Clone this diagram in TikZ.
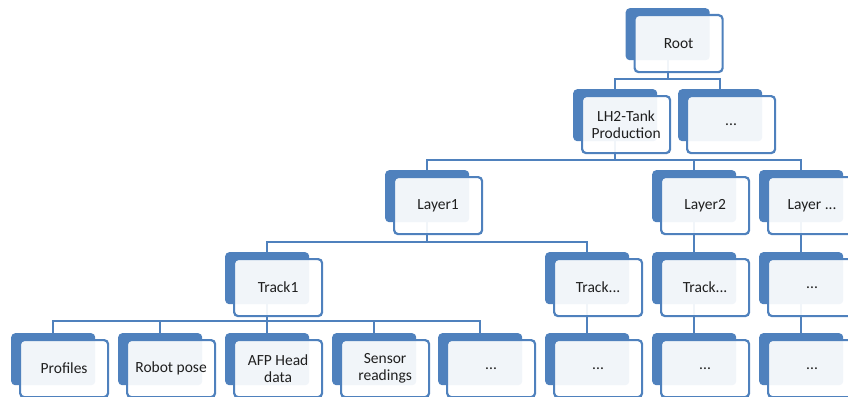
\documentclass[tikz,border=0pt]{standalone}
\usepackage{fontspec}
\setmainfont{Carlito}
\usetikzlibrary{backgrounds}
\definecolor{sablue}{RGB}{79,129,189}
\tikzset{
 backbox/.style={anchor=north west, minimum width=84pt, minimum height=52pt, inner sep=0pt, rounded corners=4pt, fill=sablue},
 frontbox/.style={anchor=north west, minimum width=88pt, minimum height=57pt, inner sep=0pt, rounded corners=4pt, draw=sablue, line width=2.2pt, fill=white, fill opacity=0.92, text opacity=1, text=black!88, font=\fontsize{15.5}{17}\selectfont, align=center},
 conn/.style={draw=sablue, line width=2.2pt}
}
\newcommand\smbox[4]{%
 \node[backbox] (#1b) at (#2-42,#3) {};
 \node[frontbox] (#1) at (#2-34,#3+6) {#4};}
\begin{document}
\begin{tikzpicture}[x=1pt,y=-1pt]
\useasboundingbox (0,0) rectangle (848,396);
\clip (0,0) rectangle (848,396);
\smbox{root}{667.5}{8}{Root}
\smbox{lh}{615}{89}{LH2-Tank\\Production}
\smbox{da}{720}{89}{...}
\smbox{layA}{427}{170}{Layer1}
\smbox{layB}{694}{170}{Layer2}
\smbox{layC}{801}{170}{Layer ...}
\smbox{trA}{267}{252}{Track1}
\smbox{trB}{587}{252}{Track...}
\smbox{trC}{694}{252}{Track...}
\smbox{trD}{801}{252}{...}
\smbox{prof}{53}{333}{Profiles}
\smbox{robot}{160}{333}{Robot pose}
\smbox{afp}{267}{333}{AFP Head\\data}
\smbox{sens}{374}{333}{Sensor\\readings}
\smbox{dc}{480}{333}{...}
\smbox{dd}{587}{333}{...}
\smbox{de}{694}{333}{...}
\smbox{df}{801}{333}{...}
\begin{scope}[on background layer]
\coordinate (bar0) at (0,79);
\coordinate (bar1) at (0,160);
\coordinate (bar2) at (0,242);
\coordinate (bar3) at (0,321);
\foreach \c in {lh,da} \draw[conn] (rootb.center) -- (rootb.center |- bar0) -| (\c b.center);
\foreach \c in {layA,layB,layC} \draw[conn] (lhb.center) -- (lhb.center |- bar1) -| (\c b.center);
\foreach \c in {trA,trB} \draw[conn] (layAb.center) -- (layAb.center |- bar2) -| (\c b.center);
\foreach \c in {prof,robot,afp,sens,dc} \draw[conn] (trAb.center) -- (trAb.center |- bar3) -| (\c b.center);
\draw[conn] (layBb.center) -- (trCb.center);
\draw[conn] (layCb.center) -- (trDb.center);
\draw[conn] (trBb.center) -- (ddb.center);
\draw[conn] (trCb.center) -- (deb.center);
\draw[conn] (trDb.center) -- (dfb.center);
\end{scope}
\end{tikzpicture}
\end{document}
